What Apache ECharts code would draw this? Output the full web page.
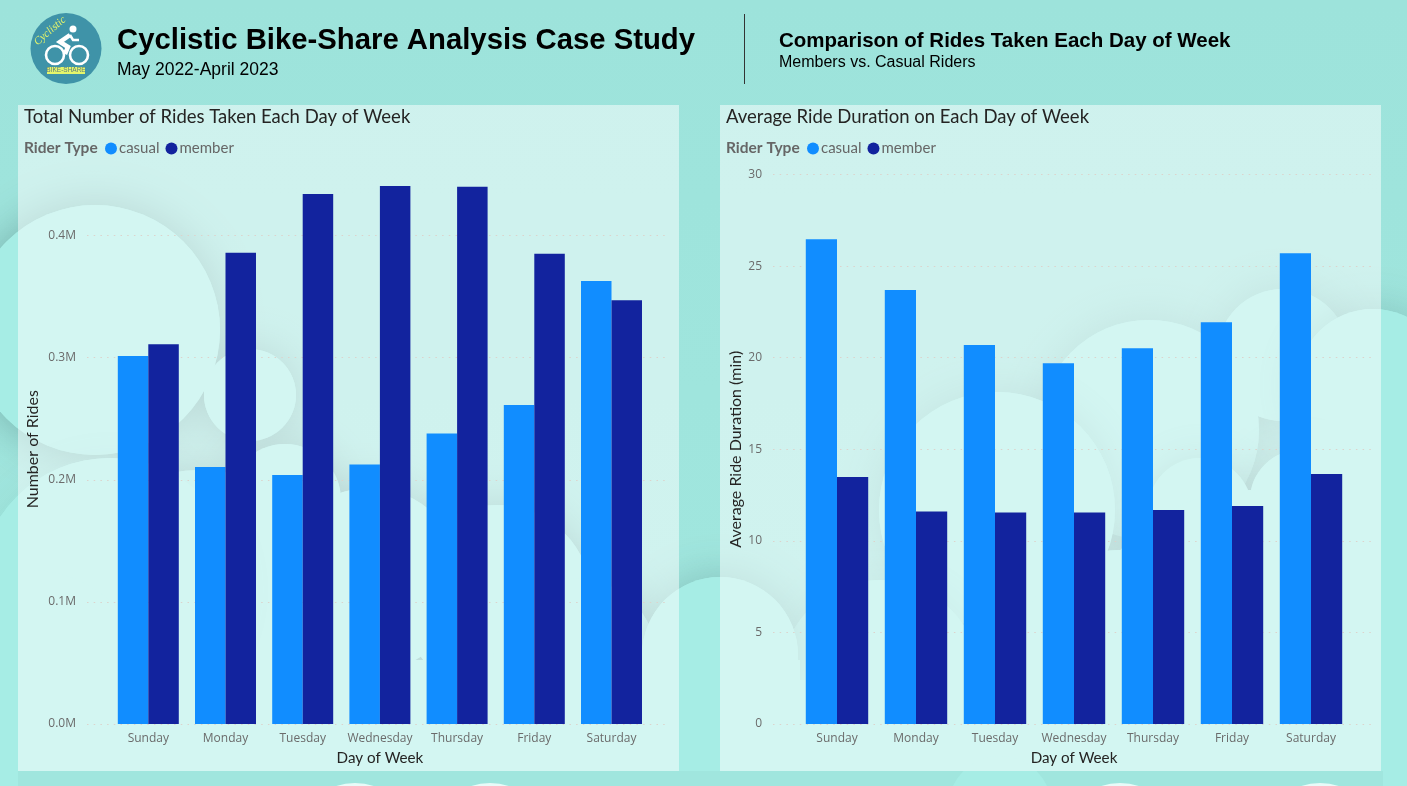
<!DOCTYPE html>
<html>
<head>
<meta charset="utf-8">
<style>html,body{margin:0;padding:0;background:#a0e6de}#c{width:1407px;height:786px}</style>
<script src="https://cdn.jsdelivr.net/npm/echarts@6/dist/echarts.min.js"></script>
</head>
<body>
<div id="c"></div>
<script>
const days = ['Sunday','Monday','Tuesday','Wednesday','Thursday','Friday','Saturday'];
const ridesCasual = [301400,210500,204000,212500,238000,261300,362800];
const ridesMember = [311000,386000,434000,440600,440000,385000,347000];
const durCasual = [26.47,23.69,20.69,19.70,20.52,21.94,25.70];
const durMember = [13.48,11.60,11.55,11.55,11.68,11.90,13.65];
const seriesNames = ['casual','member'];
const colors = ['#118DFF','#12239E'];

// decorative backdrop: [shadow alpha, circles...]
const cloudGroups = [
  [0.24,[1149,430,110],[1283,355,66]],
  [0.26,[1373,385,76]],
  [0.22,[997,510,118],[1200,510,52],[1300,500,50],[1250,660,170],[1120,650,100]],
  [0.14,[880,680,100]],
  [0.40,[95,330,125],[250,395,46],[285,500,56],[370,580,92],[497,600,95],[575,660,82],[200,620,150]],
  [0.08,[110,590,132],[30,690,120]],
  [0.30,[720,655,78]]
];
const cloudFill = '#a6ede5';
const gfx = [];
gfx.push({type:'rect',z:-10,shape:{x:0,y:0,width:1407,height:786},
  style:{fill:{type:'linear',x:0,y:0,x2:0,y2:1,colorStops:[{offset:0,color:'#9de3db'},{offset:1,color:'#a1e7df'}]}}});
cloudGroups.forEach(g=>{
  const a=g[0], cs=g.slice(1);
  cs.forEach(c=>gfx.push({type:'circle',z:-9,shape:{cx:c[0],cy:c[1],r:c[2]},
    style:{fill:cloudFill,shadowBlur:45,shadowColor:'rgba(55,95,95,'+a+')'}}));
  cs.forEach(c=>gfx.push({type:'circle',z:-9,shape:{cx:c[0],cy:c[1],r:c[2]},style:{fill:cloudFill}}));
});
[[0,560,20,226],[0,660,800,111],[1310,420,97,366],[800,680,600,91]].forEach(r=>gfx.push({type:'rect',z:-9,
  shape:{x:r[0],y:r[1],width:r[2],height:r[3]},style:{fill:cloudFill}}));
// strip under the panels
gfx.push({type:'rect',z:-9,shape:{x:18,y:771,width:1365,height:15},style:{fill:'#a0e6de'}});
gfx.push({type:'circle',z:-9,shape:{cx:1000,cy:808,r:52},style:{fill:cloudFill}});
[[355,843,60],[490,843,60],[1120,843,60],[1320,843,60]].forEach(c=>gfx.push({type:'circle',z:-9,shape:{cx:c[0],cy:c[1],r:c[2]},style:{fill:'#e8fbf8'}}));
[[18,105,661,666],[720,105,661,666]].forEach(p=>gfx.push({type:'rect',z:-8,
  shape:{x:p[0],y:p[1],width:p[2],height:p[3]},style:{fill:'rgba(255,255,255,0.5)'}}));
gfx.push({type:'line',z:5,shape:{x1:744.5,y1:14,x2:744.5,y2:84},style:{stroke:'#333',lineWidth:1}});
// logo
gfx.push({type:'circle',z:5,shape:{cx:66,cy:48.5,r:35.5},style:{fill:'#3f93a8'}});
gfx.push({type:'circle',z:6,shape:{cx:55,cy:55,r:9},style:{fill:'none',stroke:'#fff',lineWidth:2.6}});
gfx.push({type:'circle',z:6,shape:{cx:79,cy:55,r:9},style:{fill:'none',stroke:'#fff',lineWidth:2.6}});
gfx.push({type:'circle',z:6,shape:{cx:73,cy:29,r:3.5},style:{fill:'#fff'}});
gfx.push({type:'polyline',z:6,shape:{points:[[70,35],[60,42],[68,47],[65,54]]},style:{fill:'none',stroke:'#fff',lineWidth:4.5}});
gfx.push({type:'polyline',z:6,shape:{points:[[70,35],[73,40],[79,40]]},style:{fill:'none',stroke:'#fff',lineWidth:2.5}});
gfx.push({type:'rect',z:6,shape:{x:47,y:67,width:38,height:7},style:{fill:'#e4f56b'}});
gfx.push({type:'text',z:7,style:{x:66,y:70.5,text:'BIKE-SHARE',align:'center',verticalAlign:'middle',font:'6.5px "Liberation Sans"',fill:'#5c7f7c'}});
gfx.push({type:'text',z:7,rotation:0.72,x:50,y:31,style:{x:0,y:0,text:'Cyclistic',align:'center',verticalAlign:'middle',font:'italic 11px "Liberation Serif"',fill:'#e4f56b'}});
// legend captions
gfx.push({type:'text',z:7,style:{x:24,y:148,text:'Rider Type',verticalAlign:'middle',font:'bold 15.5px Lato',fill:'#666'}});
gfx.push({type:'text',z:7,style:{x:726,y:148,text:'Rider Type',verticalAlign:'middle',font:'bold 15.5px Lato',fill:'#666'}});

const tickLabel = {color:'#6b6b6b',fontFamily:'"Open Sans"',fontSize:12};
const xName = {color:'#252423',fontFamily:'Lato',fontSize:15.2};
const yName = {color:'#252423',fontFamily:'Lato',fontSize:16};
const dots = {show:true,lineStyle:{color:'#dcd3cc',width:1,type:[1.5,5.2]}};
const T=174.5, B=62;
const hidden = {axisLine:{show:false},axisTick:{show:false}};

function legend(left){return {left,top:136,itemWidth:12,itemHeight:12,itemGap:6,icon:'circle',data:seriesNames,
  itemStyle:{borderWidth:0},
  textStyle:{color:'#666',fontFamily:'Lato',fontSize:15,padding:[0,0,0,-3]}};}
function bars(vals,i,ax){return {type:'bar',name:seriesNames[i],xAxisIndex:ax,yAxisIndex:ax,data:vals,
  itemStyle:{color:colors[i]},barGap:0,barCategoryGap:'21%',silent:true,emphasis:{disabled:true}};}

const option = {
  animation:false,
  title:[
    {text:'Cyclistic Bike-Share Analysis Case Study',left:112,top:21,textStyle:{fontFamily:'"Liberation Sans"',fontWeight:'bold',fontSize:29.3,color:'#000'}},
    {text:'May 2022-April 2023',left:112,top:56,textStyle:{fontFamily:'"Liberation Sans"',fontWeight:'normal',fontSize:17.5,color:'#000'}},
    {text:'Comparison of Rides Taken Each Day of Week',left:774,top:26,textStyle:{fontFamily:'"Liberation Sans"',fontWeight:'bold',fontSize:20.5,color:'#000'}},
    {text:'Members vs. Casual Riders',left:774,top:50,textStyle:{fontFamily:'"Liberation Sans"',fontWeight:'normal',fontSize:16,color:'#000'}},
    {text:'Total Number of Rides Taken Each Day of Week',left:19,top:103,textStyle:{fontFamily:'Lato',fontWeight:'normal',fontSize:18.5,color:'#252423'}},
    {text:'Average Ride Duration on Each Day of Week',left:721,top:103,textStyle:{fontFamily:'Lato',fontWeight:'normal',fontSize:18.5,color:'#252423'}}
  ],
  legend:[legend(100),legend(802)],
  graphic:{elements:gfx},
  grid:[
    {left:87,width:582,top:T,bottom:B},
    {left:109.7,width:540.4,top:T,bottom:B},
    {left:773,width:603,top:T,bottom:B},
    {left:797.5,width:553,top:T,bottom:B}
  ],
  xAxis:[
    {type:'category',gridIndex:0,data:days,show:false},
    {type:'category',gridIndex:1,data:days,...hidden,axisLabel:{...tickLabel,margin:9,interval:0},
      name:'Day of Week',nameLocation:'middle',nameGap:27,nameTextStyle:xName},
    {type:'category',gridIndex:2,data:days,show:false},
    {type:'category',gridIndex:3,data:days,...hidden,axisLabel:{...tickLabel,margin:9,interval:0},
      name:'Day of Week',nameLocation:'middle',nameGap:27,nameTextStyle:xName}
  ],
  yAxis:[
    {type:'value',gridIndex:0,min:0,max:450000,interval:100000,...hidden,
      splitLine:{...dots,showMaxLine:false},
      axisLabel:{...tickLabel,margin:11,padding:[2,0,0,0],showMaxLabel:false,formatter:v=>(v/1e6).toFixed(1)+'M'},
      name:'Number of Rides',nameLocation:'middle',nameGap:46,nameTextStyle:yName},
    {type:'value',gridIndex:1,min:0,max:450000,show:false,splitLine:{show:false}},
    {type:'value',gridIndex:2,min:0,max:30,interval:5,...hidden,splitLine:dots,
      axisLabel:{...tickLabel,margin:11,padding:[2,0,0,0]},
      name:'Average Ride Duration (min)',nameLocation:'middle',nameGap:29,nameTextStyle:yName},
    {type:'value',gridIndex:3,min:0,max:30,show:false,splitLine:{show:false}}
  ],
  series:[
    bars(ridesCasual,0,1),
    bars(ridesMember,1,1),
    bars(durCasual,0,3),
    bars(durMember,1,3)
  ]
};
echarts.init(document.getElementById('c')).setOption(option);
</script>
</body>
</html>
